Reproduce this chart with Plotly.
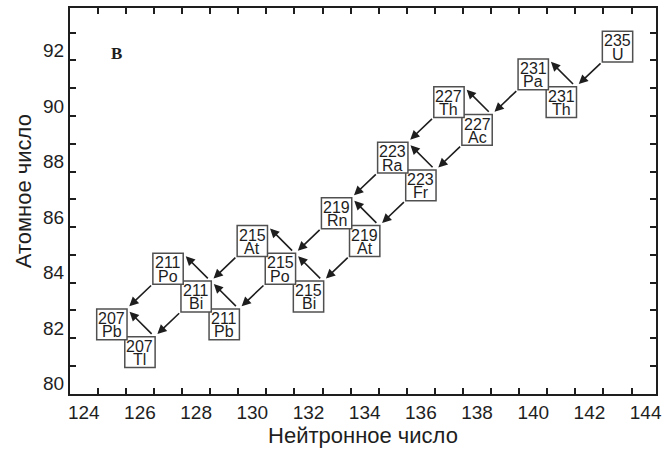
import plotly.graph_objects as go

# ---- data ----
nuclide_ids = ["235U", "231Th", "231Pa", "227Ac", "227Th", "223Fr", "223Ra", "219At",
               "219Rn", "215Bi", "215Po", "215At", "211Pb", "211Bi", "211Po", "207Tl", "207Pb"]
mass_numbers = [235, 231, 231, 227, 227, 223, 223, 219, 219, 215, 215, 215, 211, 211, 211, 207, 207]
symbols = ["U", "Th", "Pa", "Ac", "Th", "Fr", "Ra", "At", "Rn", "Bi", "Po", "At", "Pb", "Bi", "Po", "Tl", "Pb"]
neutron_numbers = [143, 141, 140, 138, 137, 136, 135, 134, 133, 132, 131, 130, 129, 128, 127, 126, 125]
atomic_numbers = [92, 90, 91, 89, 90, 87, 88, 85, 86, 83, 84, 85, 82, 83, 84, 81, 82]

alpha_decays = [("235U", "231Th"), ("231Pa", "227Ac"), ("227Ac", "223Fr"), ("227Th", "223Ra"),
                ("223Ra", "219Rn"), ("223Fr", "219At"), ("219Rn", "215Po"), ("219At", "215Bi"),
                ("215At", "211Bi"), ("215Po", "211Pb"), ("211Po", "207Pb"), ("211Bi", "207Tl")]
beta_decays = [("231Th", "231Pa"), ("227Ac", "227Th"), ("223Fr", "223Ra"), ("219At", "219Rn"),
               ("215Bi", "215Po"), ("215Po", "215At"), ("211Pb", "211Bi"), ("211Bi", "211Po"),
               ("207Tl", "207Pb")]

x_tick_labels = [124, 126, 128, 130, 132, 134, 136, 138, 140, 142, 144]
y_tick_labels = [80, 82, 84, 86, 88, 90, 92]

# ---- figure ----
pos = {nid: (n, z) for nid, n, z in zip(nuclide_ids, neutron_numbers, atomic_numbers)}
HW, HH = 0.54, 0.555
FONT = "Liberation Sans, Arial, sans-serif"
INK = "#1e1e1e"

fig = go.Figure()
# invisible trace to anchor axes
fig.add_trace(go.Scatter(x=neutron_numbers, y=atomic_numbers, mode="markers",
                         marker=dict(opacity=0), hoverinfo="skip", showlegend=False))

shapes = []
annotations = []
for nid, a, s, n, z in zip(nuclide_ids, mass_numbers, symbols, neutron_numbers, atomic_numbers):
    shapes.append(dict(type="rect", xref="x", yref="y", x0=n - HW, x1=n + HW, y0=z - HH, y1=z + HH,
                       line=dict(color="#505050", width=1.5), fillcolor="white", layer="above"))
    annotations.append(dict(x=n, y=z, xref="x", yref="y", text=str(a), showarrow=False,
                            yshift=5.9, font=dict(family=FONT, size=16, color=INK)))
    annotations.append(dict(x=n, y=z, xref="x", yref="y", text=s, showarrow=False,
                            yshift=-7.4, font=dict(family=FONT, size=16, color=INK)))

def arrow(x0, y0, x1, y1):
    return dict(x=x1, y=y1, ax=x0, ay=y0, xref="x", yref="y", axref="x", ayref="y",
                text="", showarrow=True, arrowhead=2, arrowsize=1.15, arrowwidth=1.6,
                arrowcolor=INK, standoff=0, startstandoff=0)

for p, d in alpha_decays:
    (n0, z0), (n1, z1) = pos[p], pos[d]
    annotations.append(arrow(n0 - 0.55, z0 - 0.55, n1 + 0.62, z1 + 0.65))
for p, d in beta_decays:
    (n0, z0), (n1, z1) = pos[p], pos[d]
    annotations.append(arrow(n0 + 0.47, z0 + 0.6, n1 + 0.63, z1 + 0.45))

annotations.append(dict(x=125.16, y=91.76, xref="x", yref="y", text="<b>B</b>", showarrow=False,
                        font=dict(family="Liberation Serif, Times New Roman, serif", size=17, color=INK)))

# y-axis title placed as rotated text to match the reference position
annotations.append(dict(x=-0.078, y=0.526, xref="paper", yref="paper", text="Атомное число",
                        textangle=-90, showarrow=False, xanchor="center", yanchor="middle",
                        font=dict(family=FONT, size=22, color=INK)))

x_minor = [v + 0.5 for v in range(x_tick_labels[0], x_tick_labels[-1])]
y_minor = [v + 0.5 for v in range(y_tick_labels[0], y_tick_labels[-1] + 1)]

fig.update_layout(
    width=668, height=451,
    margin=dict(l=70, r=6, t=8, b=57),
    paper_bgcolor="white", plot_bgcolor="white",
    showlegend=False,
    shapes=shapes, annotations=annotations,
    xaxis=dict(range=[123.51, 144.37], tickvals=x_tick_labels, ticks="", showgrid=False, zeroline=False,
               showline=True, linecolor=INK, linewidth=2, mirror="ticks",
               tickfont=dict(family=FONT, size=19, color=INK),
               minor=dict(tickvals=x_minor, ticks="inside", ticklen=6, tickwidth=1.5, tickcolor=INK, showgrid=False),
               title=dict(text="Нейтронное число", font=dict(family=FONT, size=22, color=INK), standoff=4)),
    yaxis=dict(range=[79.49, 93.39], tickvals=y_tick_labels, ticks="", showgrid=False, zeroline=False,
               showline=True, linecolor=INK, linewidth=2, mirror="ticks",
               tickfont=dict(family=FONT, size=19, color=INK), ticklabelshift=4,
               minor=dict(tickvals=y_minor, ticks="inside", ticklen=6, tickwidth=1.5, tickcolor=INK, showgrid=False)),
)

fig.write_html("out.html", config={"displayModeBar": False},
               post_script="document.body.style.margin='0';")
